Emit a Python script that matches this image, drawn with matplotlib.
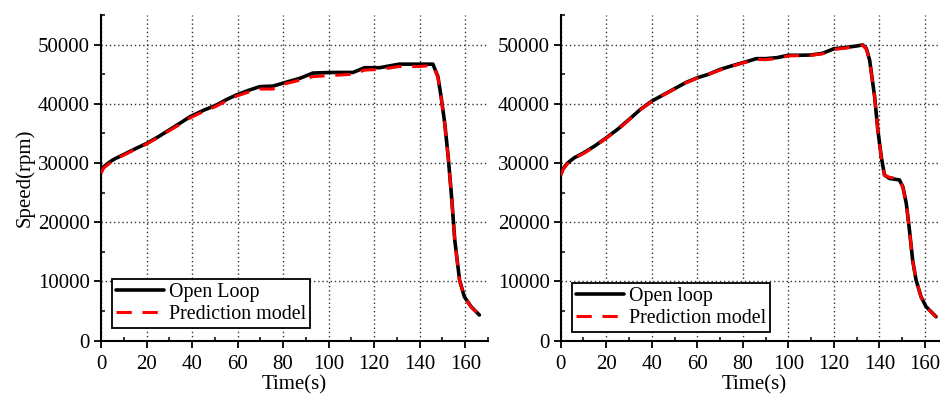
import matplotlib
matplotlib.use("Agg")
import matplotlib.pyplot as plt
from matplotlib.ticker import MultipleLocator

plt.rcParams['font.family'] = ['Liberation Serif', 'DejaVu Serif']

# ---- Left panel data ----
t_left = [0, 1, 3.9, 6, 9.8, 15, 20, 25, 28.8, 35, 39, 45, 50.7, 55, 59.5, 65, 69.7, 75.6, 80,
          87.3, 93.1, 101.9, 110.7, 115.8, 122.4, 131, 140, 145.8, 148, 149.4, 151, 152.5,
          154, 155.4, 157.5, 159.6, 162.6, 166.2]
open_left = [28500, 29300, 30200, 30700, 31400, 32400, 33300, 34400, 35300, 36800, 37800, 38900,
             39800, 40700, 41500, 42300, 42900, 43000, 43500, 44300, 45200, 45300, 45300, 46100,
             46100, 46700, 46700, 46700, 44600, 41200, 36700, 31100, 24300, 17000, 10250, 7430,
             5740, 4340]
pred_left = [28200, 29100, 30000, 30600, 31300, 32300, 33200, 34300, 35200, 36600, 37600, 38700,
             39600, 40500, 41300, 42000, 42500, 42500, 43300, 44000, 44600, 44800, 45000, 45700,
             45800, 46300, 46300, 46500, 44500, 41100, 36600, 31000, 24200, 16900, 10200, 7400,
             5700, 4300]

# ---- Right panel data ----
t_right = [0, 1, 3, 6, 10, 15, 20, 25, 30, 35, 40, 45, 50, 55, 60, 65, 70, 75, 80, 86, 90, 95,
           100, 105, 110, 115, 120, 125, 130, 132.7, 134.3, 135.7, 137.9, 139.3, 140.8, 142.2,
           144.4, 148.8, 150.3, 151.8, 153.2, 154.6, 156.1, 158.3, 160.5, 164.9]
open_right = [28050, 29000, 30000, 30900, 31700, 32900, 34250, 35700, 37350, 39050, 40460, 41500,
              42550, 43600, 44400, 45000, 45800, 46400, 46950, 47630, 47630, 47800,
              48200, 48200, 48250, 48530, 49300, 49500, 49770, 49950, 49300, 47400, 41200,
              35600, 31100, 28000, 27400, 27150, 26000, 23200, 18700, 13600, 10250, 7400,
              5740, 4050]
pred_right = [27900, 28900, 29900, 30800, 31600, 32800, 34200, 35600, 37300, 39000, 40400, 41450,
              42500, 43550, 44350, 45000, 45700, 46350, 46900, 47500, 47450, 47650,
              48100, 48150, 48200, 48450, 49200, 49400, 49700, 49900, 49250, 47300, 41100,
              35500, 31000, 27900, 27600, 27300, 25900, 23100, 18600, 13500, 10200, 7350,
              5700, 4000]

labels_left = ["Open Loop", "Prediction model"]
labels_right = ["Open loop", "Prediction model"]

fig = plt.figure(figsize=(9.4, 3.94), dpi=100)
W, H = 940, 394

def make_axes(left_px):
    return fig.add_axes([left_px / W, (H - 340.7) / H, 387 / W, 325.7 / H])

panels = [
    (101, t_left, open_left, pred_left, labels_left, True, (0.028, 0.039)),
    (560.7, t_right, open_right, pred_right, labels_right, False, (0.028, 0.027)),
]

for left_px, t, o, p, labs, ylab, anchor in panels:
    ax = make_axes(left_px)
    l1, = ax.plot(t, o, color='black', lw=2.6, solid_capstyle='round',
                  solid_joinstyle='round', zorder=3)
    l2, = ax.plot(t, p, color='#ff0000', lw=2.2, linestyle=(0, (5, 3.5)), zorder=4)
    ax.set_xlim(0, 170)
    ax.set_ylim(0, 55000)
    ax.xaxis.set_major_locator(MultipleLocator(20))
    ax.xaxis.set_minor_locator(MultipleLocator(10))
    ax.yaxis.set_major_locator(MultipleLocator(10000))
    ax.yaxis.set_minor_locator(MultipleLocator(5000))
    ax.grid(True, which='major', linestyle=(0, (1, 2)), color='#333333', lw=1.0)
    ax.spines['top'].set_visible(False)
    ax.spines['right'].set_visible(False)
    for s in ('left', 'bottom'):
        ax.spines[s].set_linewidth(1.5)
    ax.tick_params(which='major', direction='out', length=5, width=1.3, labelsize=15)
    ax.tick_params(axis='x', which='major', pad=5)
    ax.tick_params(axis='y', which='major', pad=3)
    ax.tick_params(which='minor', direction='in', length=3, width=1.1)
    ax.set_xlabel("Time(s)", fontsize=15, labelpad=1)
    if ylab:
        ax.set_ylabel("Speed(rpm)", fontsize=15, labelpad=2)
    leg = ax.legend([l1, l2], labs, loc='lower left', bbox_to_anchor=anchor, borderaxespad=0,
                    fontsize=14.4, fancybox=False, framealpha=1, edgecolor='black',
                    handlelength=2.4, handletextpad=0.25, borderpad=0.2, labelspacing=0.15)
    leg.get_frame().set_linewidth(1.3)

fig.savefig("out.png", dpi=100)
